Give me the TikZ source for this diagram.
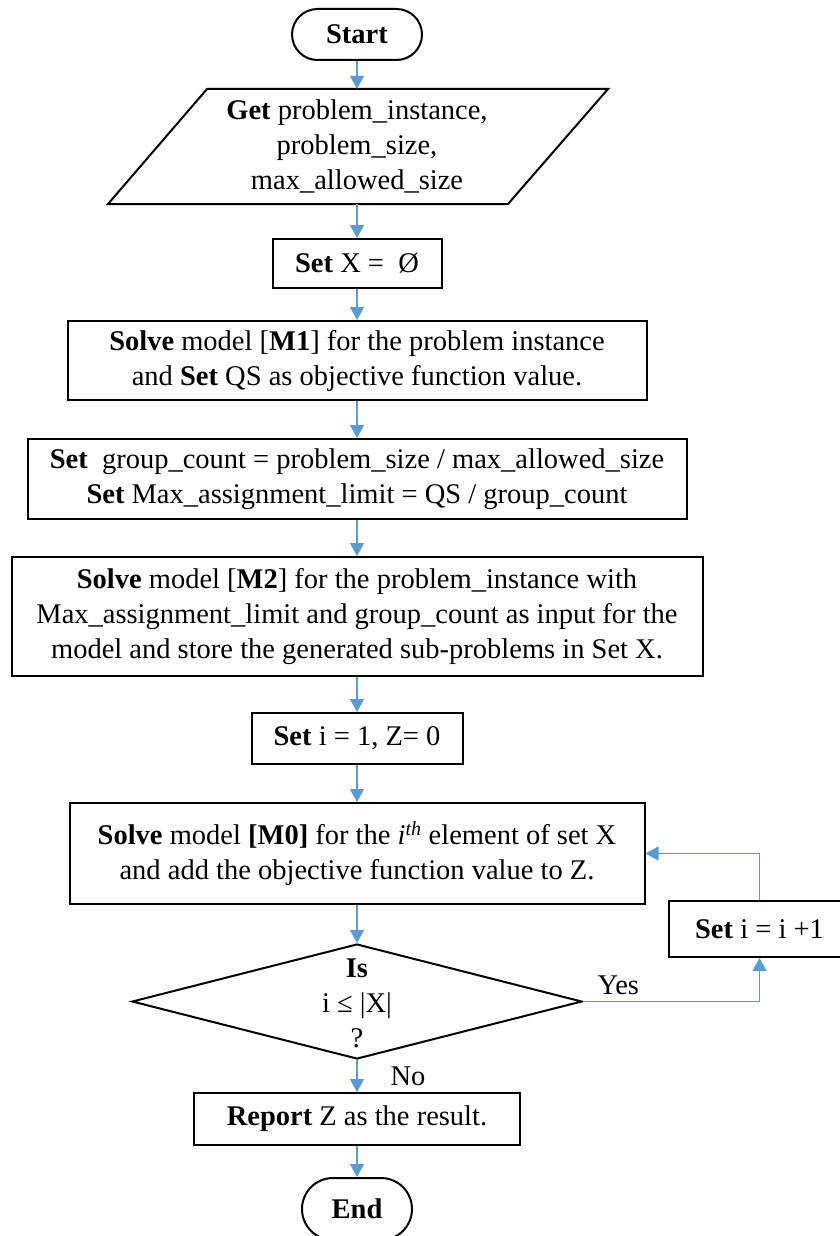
\documentclass[tikz,border=0pt]{standalone}
\usepackage{fontspec}
\setmainfont{Liberation Serif}
\usetikzlibrary{arrows.meta,shapes.geometric,shapes.misc}
\definecolor{flowblue}{RGB}{91,155,213}
\tikzset{
  txt/.style={inner sep=0pt, align=center, font=\fontsize{28.5}{35}\selectfont},
  box/.style={txt, draw=black, line width=2pt, rectangle},
  term/.style={txt, draw=black, line width=2pt, rounded rectangle},
  decision/.style={draw=black, line width=2pt, diamond, inner sep=0pt},
  flow/.style={draw=flowblue, line width=1.3pt, -{Triangle[length=13pt,width=14pt]}},
}
\begin{document}
\begin{tikzpicture}[x=1pt,y=1pt,yscale=-1,xscale=1]
        \useasboundingbox (0,0) rectangle (840,1236);
        
        % Terminal Node
        \node [term, minimum width=130, minimum height=51] (start) at (357,34.5) {\textbf{Start}};
        %Shape: Parallelogram
        \draw [line width=2pt] (207,89) -- (608,89) -- (508,204) -- (108,204) -- cycle ;
        % Text Node
        \node [txt, minimum height=115] (get) at (357,146.5) {\textbf{Get} problem\_instance,\\problem\_size,\\max\_allowed\_size};
        % Process Nodes
        \node [box, minimum width=169, minimum height=49] (setx) at (357,263.5) {\textbf{Set} X = \ Ø};
        \node [box, minimum width=579, minimum height=79] (mone) at (357,360.5) {\textbf{Solve} model [\textbf{M1}] for the problem instance\\and \textbf{Set} QS as objective function value.};
        \node [box, minimum width=659, minimum height=80] (group) at (357,479) {\textbf{Set}\ \ group\_count = problem\_size / max\_allowed\_size\\\textbf{Set} Max\_assignment\_limit = QS / group\_count};
        \node [box, minimum width=691, minimum height=119] (mtwo) at (357,616.5) {\textbf{Solve} model [\textbf{M2}] for the problem\_instance with\\Max\_assignment\_limit and group\_count as input for the\\model and store the generated sub-problems in Set X.};
        \node [box, minimum width=211, minimum height=51] (seti) at (357,738.5) {\textbf{Set} i = 1, Z= 0};
        \node [box, minimum width=575, minimum height=101] (mzero) at (357,853.5) {\textbf{Solve} model \textbf{[M0]} for the \textit{i}\textsuperscript{\textit{th}} element of set X\\and add the objective function value to Z.};
        \node [box, minimum width=181, minimum height=56] (inc) at (759.5,929) {\textbf{Set} i = i +1};
        % Decision Node
        \node [decision, minimum width=450, minimum height=115] (test) at (357,1001.5) {};
        \node [txt] (testtext) at (357,1003) {\textbf{Is}\\i ≤ |X|\\?};
        \node [box, minimum width=326, minimum height=52] (report) at (357,1119) {\textbf{Report} Z as the result.};
        \node [term, minimum width=110, minimum height=62] (end) at (357,1209) {\textbf{End}};
        
        %Straight Lines
        \draw [flow] (start.south) -- (get.north) ;
        \draw [flow] (get.south) -- (setx.north) ;
        \draw [flow] (setx.south) -- (mone.north) ;
        \draw [flow] (mone.south) -- (group.north) ;
        \draw [flow] (group.south) -- (mtwo.north) ;
        \draw [flow] (mtwo.south) -- (seti.north) ;
        \draw [flow] (seti.south) -- (mzero.north) ;
        \draw [flow] (mzero.south) -- (test.north) ;
        \draw [flow] (test.south) -- node [txt, right, xshift=33pt] {No} (report.north) ;
        \draw [flow] (report.south) -- (end.north) ;
        %Loop Lines
        \draw [flow] (test.east) -| node [txt, pos=0.1, above=6pt] {Yes} (inc.south) ;
        \draw [flow] (inc.north) |- (mzero.east) ;
        
\end{tikzpicture}
\end{document}
